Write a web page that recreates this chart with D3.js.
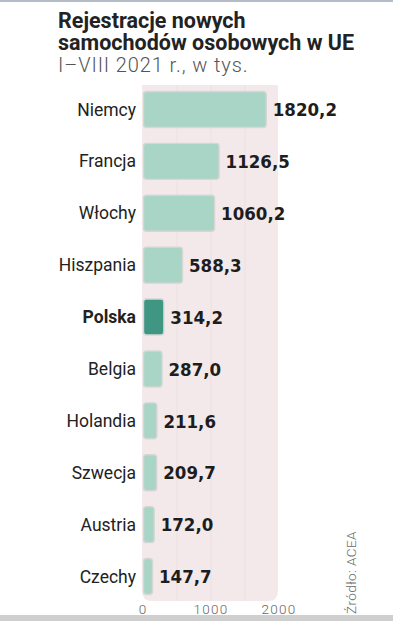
<!DOCTYPE html>
<head>
    <meta charset="utf-8">
    <title>Rejestracje nowych samochodów osobowych w UE</title>
    <style>
        body { margin: 0; background: #fff; }
        svg { display: block; }
    </style>
</head>
<body>
    <script src="https://d3js.org/d3.v7.min.js"></script>
    <script>

        var countries = ['Niemcy', 'Francja', 'Włochy', 'Hiszpania', 'Polska', 'Belgia', 'Holandia', 'Szwecja', 'Austria', 'Czechy'];
        var registrations = [1820.2, 1126.5, 1060.2, 588.3, 314.2, 287.0, 211.6, 209.7, 172.0, 147.7];
        var tickValues = [0, 1000, 2000];
        var gridValues = [500, 1000, 1500];

        var width = 393, height = 621;

        var data = countries.map(function (c, i) { return { name: c, value: registrations[i] }; });

        var x = d3.scaleLinear()
            .domain([0, 2000])
            .range([143, 279]);

        var y = d3.scaleBand()
            .domain(countries)
            .range([83.5, 602.5])
            .paddingInner(0.287)
            .paddingOuter(0.1435);

        var fmt = function (v) { return d3.format('.1f')(v).replace('.', ','); };

        var svg = d3.select('body').append('svg')
            .attr('width', width)
            .attr('height', height);

        // top rule and bottom band
        svg.append('rect').attr('x', 0).attr('y', 0).attr('width', width).attr('height', 2).attr('fill', '#b3bcc7');
        svg.append('rect').attr('x', 0).attr('y', 615).attr('width', width).attr('height', 6).attr('fill', '#cfcfcf');

        // title
        var title = svg.append('text')
            .style('font-family', 'Roboto, sans-serif')
            .style('fill', '#222')
            .style('font-weight', 700)
            .style('font-size', '21.5px');
        title.append('tspan').attr('x', 58).attr('y', 28).text('Rejestracje nowych');
        title.append('tspan').attr('x', 58).attr('y', 50).text('samochodów osobowych w UE');
        svg.append('text')
            .attr('x', 58).attr('y', 72)
            .style('font-family', 'Roboto, sans-serif')
            .style('font-weight', 300)
            .style('font-size', '20px')
            .style('letter-spacing', '0.9px')
            .style('fill', '#555')
            .text('I–VIII 2021 r., w tys.');

        // background panel, rounded at the bottom
        var px0 = x(0) - 1, px1 = x(2000) - 1, py0 = 85, py1 = 601, r = 10;
        svg.append('path')
            .attr('d', 'M' + px0 + ',' + py0 + 'H' + px1 + 'V' + (py1 - r) +
                'Q' + px1 + ',' + py1 + ' ' + (px1 - r) + ',' + py1 +
                'H' + (px0 + r) + 'Q' + px0 + ',' + py1 + ' ' + px0 + ',' + (py1 - r) + 'Z')
            .attr('fill', '#f4e9ea');

        svg.selectAll('.grid')
            .data(gridValues)
            .enter().append('line')
            .attr('class', 'grid')
            .attr('x1', function (d) { return x(d); })
            .attr('x2', function (d) { return x(d); })
            .attr('y1', py0)
            .attr('y2', py1)
            .attr('stroke', '#ecdfe1')
            .attr('stroke-width', 1);

        // bars
        svg.selectAll('.bar')
            .data(data)
            .enter().append('rect')
            .attr('class', 'bar')
            .attr('x', x(0) + 0.5)
            .attr('y', function (d) { return y(d.name) + 0.5; })
            .attr('width', function (d) { return x(d.value) - x(0) - 1; })
            .attr('height', y.bandwidth() - 1)
            .attr('rx', 3)
            .attr('fill', function (d) { return d.name === 'Polska' ? '#3f9683' : '#a9d5c7'; })
            .attr('stroke', '#d6d6d6')
            .attr('stroke-width', 1.4);

        // category labels
        svg.selectAll('.cat')
            .data(data)
            .enter().append('text')
            .attr('class', 'cat')
            .attr('x', 136)
            .attr('y', function (d) { return y(d.name) + y.bandwidth() / 2; })
            .attr('dy', '0.35em')
            .style('text-anchor', 'end')
            .style('font-family', 'Roboto, sans-serif')
            .style('font-size', '17.5px')
            .style('font-weight', function (d) { return d.name === 'Polska' ? 700 : 400; })
            .style('fill', '#222')
            .text(function (d) { return d.name; });

        // value labels
        svg.selectAll('.val')
            .data(data)
            .enter().append('text')
            .attr('class', 'val')
            .attr('x', function (d) { return x(d.value) + 6; })
            .attr('y', function (d) { return y(d.name) + y.bandwidth() / 2; })
            .attr('dy', '0.36em')
            .style('font-family', '"DejaVu Sans Condensed", "DejaVu Sans", sans-serif')
            .style('font-stretch', 'condensed')
            .style('font-size', '18.5px')
            .style('font-weight', 700)
            .style('fill', '#1d1d1d')
            .text(function (d) { return fmt(d.value); });

        // axis tick labels
        svg.selectAll('.tick-label')
            .data(tickValues)
            .enter().append('text')
            .attr('class', 'tick-label')
            .attr('x', function (d) { return x(d); })
            .attr('y', 614)
            .style('text-anchor', 'middle')
            .style('font-family', 'Roboto, sans-serif')
            .style('font-weight', 300)
            .style('font-size', '13.5px')
            .style('letter-spacing', '1.2px')
            .style('fill', '#666')
            .text(function (d) { return d; });

        // source
        svg.append('text')
            .attr('transform', 'translate(356,614) rotate(-90)')
            .style('font-family', 'Roboto, sans-serif')
            .style('font-weight', 300)
            .style('font-size', '13.5px')
            .style('letter-spacing', '0.4px')
            .style('fill', '#666')
            .text('Źródło: ACEA');

    </script>
</body>
